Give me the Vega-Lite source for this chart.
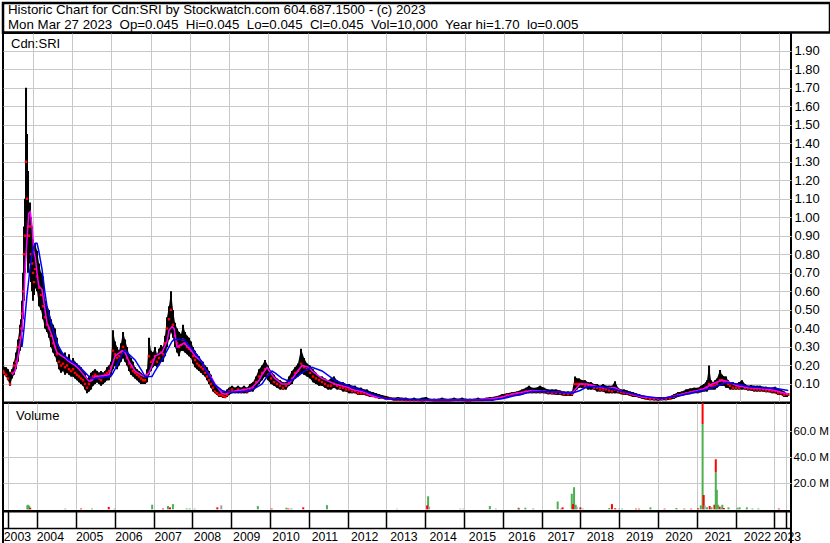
{
"$schema": "https://vega.github.io/schema/vega-lite/v6.json",
"background": "white",
"padding": {"left": 1, "top": 1, "right": 0, "bottom": 0},
"spacing": 0,
"bounds": "flush",
"config": {"font": "Liberation Sans", "view": {"stroke": null}, "axis": {"labelFont": "Liberation Sans", "labelColor": "black", "labelOverlap": false, "tickCount": 60}},
"datasets": {
"hdr": [
{"k": 1, "s": "Historic Chart for Cdn:SRI by Stockwatch.com 604.687.1500 - (c) 2023"},
{"k": 2, "s": "Mon Mar 27 2023\u00a0 Op=0.045\u00a0 Hi=0.045\u00a0 Lo=0.045\u00a0 Cl=0.045\u00a0 Vol=10,000\u00a0 Year hi=1.70\u00a0 lo=0.005"}
],
"px": [
{"t":2003.25,"h":0.20,"l":0.15,"c":0.17},{"t":2003.27,"h":0.19,"l":0.15,"c":0.16},{"t":2003.321,"h":0.19,"l":0.14,"c":0.15},{"t":2003.372,"h":0.18,"l":0.12,"c":0.13},{"t":2003.423,"h":0.16,"l":0.09,"c":0.10},{"t":2003.474,"h":0.18,"l":0.13,"c":0.16},{"t":2003.524,"h":0.22,"l":0.15,"c":0.20},{"t":2003.575,"h":0.27,"l":0.18,"c":0.22},{"t":2003.626,"h":0.34,"l":0.22,"c":0.30},{"t":2003.677,"h":0.42,"l":0.28,"c":0.35},{"t":2003.703,"h":0.45,"l":0.30,"c":0.40},{"t":2003.728,"h":0.55,"l":0.38,"c":0.48},{"t":2003.754,"h":0.70,"l":0.45,"c":0.60},{"t":2003.779,"h":0.95,"l":0.55,"c":0.80},{"t":2003.804,"h":1.10,"l":0.70,"c":0.90},{"t":2003.830,"h":1.70,"l":0.85,"c":1.30},{"t":2003.855,"h":1.45,"l":0.90,"c":1.10},{"t":2003.881,"h":1.25,"l":0.70,"c":0.95},{"t":2003.906,"h":1.05,"l":0.75,"c":0.90},{"t":2003.932,"h":1.08,"l":0.80,"c":0.95},{"t":2003.957,"h":1.00,"l":0.65,"c":0.80},{"t":2003.983,"h":0.95,"l":0.60,"c":0.75},{"t":2004.008,"h":0.88,"l":0.55,"c":0.70},{"t":2004.033,"h":0.80,"l":0.58,"c":0.65},{"t":2004.059,"h":0.86,"l":0.62,"c":0.72},{"t":2004.110,"h":0.82,"l":0.60,"c":0.68},{"t":2004.161,"h":0.75,"l":0.52,"c":0.62},{"t":2004.212,"h":0.70,"l":0.50,"c":0.58},{"t":2004.263,"h":0.68,"l":0.45,"c":0.52},{"t":2004.313,"h":0.55,"l":0.40,"c":0.46},{"t":2004.364,"h":0.52,"l":0.38,"c":0.42},{"t":2004.415,"h":0.50,"l":0.35,"c":0.40},{"t":2004.466,"h":0.45,"l":0.30,"c":0.36},{"t":2004.517,"h":0.42,"l":0.27,"c":0.32},{"t":2004.568,"h":0.40,"l":0.25,"c":0.30},{"t":2004.618,"h":0.35,"l":0.22,"c":0.26},{"t":2004.669,"h":0.30,"l":0.18,"c":0.22},{"t":2004.720,"h":0.28,"l":0.16,"c":0.20},{"t":2004.772,"h":0.26,"l":0.17,"c":0.21},{"t":2004.822,"h":0.27,"l":0.15,"c":0.19},{"t":2004.873,"h":0.24,"l":0.16,"c":0.20},{"t":2004.924,"h":0.26,"l":0.15,"c":0.18},{"t":2004.975,"h":0.22,"l":0.14,"c":0.17},{"t":2005.026,"h":0.24,"l":0.14,"c":0.18},{"t":2005.077,"h":0.22,"l":0.13,"c":0.16},{"t":2005.128,"h":0.21,"l":0.12,"c":0.15},{"t":2005.179,"h":0.20,"l":0.11,"c":0.14},{"t":2005.230,"h":0.19,"l":0.10,"c":0.13},{"t":2005.281,"h":0.17,"l":0.09,"c":0.12},{"t":2005.331,"h":0.16,"l":0.07,"c":0.10},{"t":2005.382,"h":0.13,"l":0.05,"c":0.08},{"t":2005.433,"h":0.14,"l":0.06,"c":0.10},{"t":2005.484,"h":0.16,"l":0.07,"c":0.12},{"t":2005.535,"h":0.17,"l":0.09,"c":0.14},{"t":2005.586,"h":0.18,"l":0.10,"c":0.15},{"t":2005.637,"h":0.17,"l":0.11,"c":0.14},{"t":2005.688,"h":0.16,"l":0.10,"c":0.13},{"t":2005.739,"h":0.17,"l":0.09,"c":0.12},{"t":2005.790,"h":0.16,"l":0.10,"c":0.14},{"t":2005.840,"h":0.17,"l":0.11,"c":0.15},{"t":2005.891,"h":0.19,"l":0.12,"c":0.16},{"t":2005.942,"h":0.20,"l":0.12,"c":0.17},{"t":2005.993,"h":0.22,"l":0.14,"c":0.19},{"t":2006.044,"h":0.39,"l":0.18,"c":0.28},{"t":2006.095,"h":0.33,"l":0.20,"c":0.26},{"t":2006.146,"h":0.30,"l":0.18,"c":0.24},{"t":2006.197,"h":0.28,"l":0.20,"c":0.25},{"t":2006.248,"h":0.32,"l":0.22,"c":0.27},{"t":2006.299,"h":0.38,"l":0.24,"c":0.30},{"t":2006.350,"h":0.34,"l":0.22,"c":0.28},{"t":2006.401,"h":0.30,"l":0.20,"c":0.24},{"t":2006.451,"h":0.26,"l":0.17,"c":0.21},{"t":2006.502,"h":0.24,"l":0.15,"c":0.19},{"t":2006.553,"h":0.22,"l":0.14,"c":0.17},{"t":2006.604,"h":0.19,"l":0.13,"c":0.16},{"t":2006.655,"h":0.18,"l":0.12,"c":0.15},{"t":2006.706,"h":0.17,"l":0.11,"c":0.14},{"t":2006.757,"h":0.16,"l":0.10,"c":0.13},{"t":2006.808,"h":0.15,"l":0.10,"c":0.12},{"t":2006.859,"h":0.14,"l":0.10,"c":0.12},{"t":2006.910,"h":0.18,"l":0.11,"c":0.15},{"t":2006.960,"h":0.35,"l":0.15,"c":0.25},{"t":2007.011,"h":0.28,"l":0.17,"c":0.22},{"t":2007.062,"h":0.27,"l":0.19,"c":0.23},{"t":2007.113,"h":0.30,"l":0.20,"c":0.25},{"t":2007.164,"h":0.26,"l":0.19,"c":0.22},{"t":2007.215,"h":0.29,"l":0.20,"c":0.24},{"t":2007.266,"h":0.31,"l":0.22,"c":0.27},{"t":2007.317,"h":0.30,"l":0.22,"c":0.26},{"t":2007.368,"h":0.36,"l":0.25,"c":0.32},{"t":2007.419,"h":0.46,"l":0.30,"c":0.40},{"t":2007.469,"h":0.52,"l":0.34,"c":0.45},{"t":2007.520,"h":0.60,"l":0.38,"c":0.50},{"t":2007.571,"h":0.50,"l":0.35,"c":0.42},{"t":2007.622,"h":0.43,"l":0.30,"c":0.36},{"t":2007.673,"h":0.40,"l":0.27,"c":0.32},{"t":2007.724,"h":0.38,"l":0.25,"c":0.30},{"t":2007.775,"h":0.37,"l":0.28,"c":0.31},{"t":2007.826,"h":0.42,"l":0.28,"c":0.34},{"t":2007.877,"h":0.38,"l":0.27,"c":0.32},{"t":2007.928,"h":0.36,"l":0.26,"c":0.30},{"t":2007.978,"h":0.35,"l":0.25,"c":0.29},{"t":2008.029,"h":0.33,"l":0.24,"c":0.28},{"t":2008.080,"h":0.30,"l":0.21,"c":0.25},{"t":2008.131,"h":0.28,"l":0.19,"c":0.23},{"t":2008.182,"h":0.26,"l":0.18,"c":0.21},{"t":2008.233,"h":0.25,"l":0.17,"c":0.20},{"t":2008.284,"h":0.23,"l":0.16,"c":0.19},{"t":2008.335,"h":0.22,"l":0.15,"c":0.18},{"t":2008.386,"h":0.20,"l":0.14,"c":0.16},{"t":2008.437,"h":0.19,"l":0.12,"c":0.14},{"t":2008.487,"h":0.17,"l":0.10,"c":0.12},{"t":2008.538,"h":0.15,"l":0.08,"c":0.10},{"t":2008.589,"h":0.12,"l":0.06,"c":0.08},{"t":2008.640,"h":0.10,"l":0.05,"c":0.06},{"t":2008.691,"h":0.08,"l":0.04,"c":0.05},{"t":2008.742,"h":0.07,"l":0.03,"c":0.04},{"t":2008.793,"h":0.06,"l":0.03,"c":0.04},{"t":2008.844,"h":0.06,"l":0.025,"c":0.035},{"t":2008.895,"h":0.06,"l":0.025,"c":0.03},{"t":2008.946,"h":0.07,"l":0.03,"c":0.04},{"t":2008.996,"h":0.08,"l":0.04,"c":0.06},{"t":2009.073,"h":0.09,"l":0.05,"c":0.07},{"t":2009.149,"h":0.08,"l":0.05,"c":0.06},{"t":2009.226,"h":0.09,"l":0.05,"c":0.07},{"t":2009.302,"h":0.08,"l":0.05,"c":0.06},{"t":2009.378,"h":0.09,"l":0.05,"c":0.07},{"t":2009.455,"h":0.08,"l":0.05,"c":0.06},{"t":2009.531,"h":0.10,"l":0.06,"c":0.07},{"t":2009.607,"h":0.11,"l":0.06,"c":0.08},{"t":2009.684,"h":0.14,"l":0.08,"c":0.11},{"t":2009.760,"h":0.18,"l":0.10,"c":0.14},{"t":2009.837,"h":0.20,"l":0.12,"c":0.16},{"t":2009.913,"h":0.23,"l":0.14,"c":0.18},{"t":2009.989,"h":0.20,"l":0.12,"c":0.15},{"t":2010.066,"h":0.17,"l":0.10,"c":0.13},{"t":2010.142,"h":0.15,"l":0.09,"c":0.11},{"t":2010.218,"h":0.13,"l":0.08,"c":0.10},{"t":2010.295,"h":0.12,"l":0.07,"c":0.09},{"t":2010.371,"h":0.11,"l":0.07,"c":0.08},{"t":2010.447,"h":0.11,"l":0.07,"c":0.09},{"t":2010.524,"h":0.14,"l":0.09,"c":0.11},{"t":2010.600,"h":0.17,"l":0.10,"c":0.13},{"t":2010.677,"h":0.19,"l":0.13,"c":0.16},{"t":2010.753,"h":0.21,"l":0.14,"c":0.17},{"t":2010.829,"h":0.29,"l":0.16,"c":0.21},{"t":2010.906,"h":0.24,"l":0.15,"c":0.19},{"t":2010.982,"h":0.21,"l":0.14,"c":0.18},{"t":2011.058,"h":0.20,"l":0.13,"c":0.16},{"t":2011.135,"h":0.18,"l":0.11,"c":0.14},{"t":2011.211,"h":0.16,"l":0.10,"c":0.13},{"t":2011.287,"h":0.14,"l":0.09,"c":0.12},{"t":2011.364,"h":0.14,"l":0.09,"c":0.11},{"t":2011.440,"h":0.13,"l":0.08,"c":0.10},{"t":2011.516,"h":0.12,"l":0.07,"c":0.09},{"t":2011.593,"h":0.13,"l":0.07,"c":0.09},{"t":2011.669,"h":0.14,"l":0.08,"c":0.10},{"t":2011.746,"h":0.12,"l":0.07,"c":0.09},{"t":2011.822,"h":0.11,"l":0.07,"c":0.08},{"t":2011.898,"h":0.11,"l":0.06,"c":0.08},{"t":2011.975,"h":0.10,"l":0.06,"c":0.07},{"t":2012.051,"h":0.10,"l":0.05,"c":0.07},{"t":2012.127,"h":0.09,"l":0.05,"c":0.06},{"t":2012.204,"h":0.09,"l":0.05,"c":0.06},{"t":2012.280,"h":0.08,"l":0.04,"c":0.05},{"t":2012.356,"h":0.08,"l":0.04,"c":0.05},{"t":2012.433,"h":0.07,"l":0.04,"c":0.05},{"t":2012.509,"h":0.07,"l":0.035,"c":0.045},{"t":2012.585,"h":0.06,"l":0.03,"c":0.04},{"t":2012.662,"h":0.055,"l":0.03,"c":0.035},{"t":2012.738,"h":0.05,"l":0.025,"c":0.03},{"t":2012.815,"h":0.045,"l":0.02,"c":0.03},{"t":2012.891,"h":0.04,"l":0.02,"c":0.025},{"t":2012.993,"h":0.035,"l":0.015,"c":0.02},{"t":2013.094,"h":0.03,"l":0.015,"c":0.02},{"t":2013.196,"h":0.025,"l":0.01,"c":0.015},{"t":2013.298,"h":0.03,"l":0.01,"c":0.015},{"t":2013.400,"h":0.025,"l":0.01,"c":0.015},{"t":2013.502,"h":0.025,"l":0.008,"c":0.012},{"t":2013.603,"h":0.02,"l":0.008,"c":0.012},{"t":2013.705,"h":0.025,"l":0.008,"c":0.012},{"t":2013.807,"h":0.02,"l":0.008,"c":0.012},{"t":2013.909,"h":0.025,"l":0.005,"c":0.01},{"t":2014.011,"h":0.03,"l":0.008,"c":0.012},{"t":2014.112,"h":0.02,"l":0.008,"c":0.012},{"t":2014.214,"h":0.02,"l":0.005,"c":0.01},{"t":2014.316,"h":0.02,"l":0.005,"c":0.01},{"t":2014.418,"h":0.025,"l":0.005,"c":0.01},{"t":2014.520,"h":0.02,"l":0.005,"c":0.01},{"t":2014.621,"h":0.02,"l":0.005,"c":0.01},{"t":2014.723,"h":0.025,"l":0.008,"c":0.012},{"t":2014.825,"h":0.02,"l":0.008,"c":0.012},{"t":2014.927,"h":0.025,"l":0.008,"c":0.012},{"t":2015.029,"h":0.02,"l":0.005,"c":0.01},{"t":2015.131,"h":0.02,"l":0.005,"c":0.01},{"t":2015.232,"h":0.02,"l":0.008,"c":0.012},{"t":2015.334,"h":0.025,"l":0.008,"c":0.012},{"t":2015.436,"h":0.02,"l":0.008,"c":0.012},{"t":2015.538,"h":0.025,"l":0.01,"c":0.015},{"t":2015.639,"h":0.03,"l":0.01,"c":0.015},{"t":2015.690,"h":0.03,"l":0.01,"c":0.02},{"t":2015.818,"h":0.035,"l":0.015,"c":0.025},{"t":2015.945,"h":0.045,"l":0.02,"c":0.03},{"t":2016.072,"h":0.05,"l":0.03,"c":0.04},{"t":2016.200,"h":0.055,"l":0.035,"c":0.045},{"t":2016.327,"h":0.06,"l":0.035,"c":0.05},{"t":2016.454,"h":0.07,"l":0.04,"c":0.05},{"t":2016.556,"h":0.08,"l":0.05,"c":0.06},{"t":2016.632,"h":0.09,"l":0.05,"c":0.06},{"t":2016.709,"h":0.08,"l":0.05,"c":0.06},{"t":2016.811,"h":0.08,"l":0.05,"c":0.06},{"t":2016.912,"h":0.09,"l":0.05,"c":0.06},{"t":2017.014,"h":0.08,"l":0.05,"c":0.06},{"t":2017.116,"h":0.07,"l":0.045,"c":0.055},{"t":2017.218,"h":0.07,"l":0.045,"c":0.05},{"t":2017.319,"h":0.07,"l":0.04,"c":0.05},{"t":2017.421,"h":0.065,"l":0.04,"c":0.05},{"t":2017.523,"h":0.06,"l":0.035,"c":0.045},{"t":2017.625,"h":0.06,"l":0.035,"c":0.045},{"t":2017.727,"h":0.06,"l":0.035,"c":0.045},{"t":2017.803,"h":0.14,"l":0.06,"c":0.10},{"t":2017.854,"h":0.13,"l":0.07,"c":0.10},{"t":2017.905,"h":0.13,"l":0.08,"c":0.10},{"t":2017.981,"h":0.12,"l":0.08,"c":0.10},{"t":2018.058,"h":0.12,"l":0.08,"c":0.09},{"t":2018.134,"h":0.11,"l":0.07,"c":0.09},{"t":2018.210,"h":0.11,"l":0.07,"c":0.09},{"t":2018.287,"h":0.10,"l":0.07,"c":0.08},{"t":2018.363,"h":0.10,"l":0.06,"c":0.08},{"t":2018.439,"h":0.09,"l":0.06,"c":0.07},{"t":2018.516,"h":0.10,"l":0.06,"c":0.07},{"t":2018.592,"h":0.09,"l":0.05,"c":0.07},{"t":2018.668,"h":0.09,"l":0.05,"c":0.065},{"t":2018.745,"h":0.09,"l":0.05,"c":0.06},{"t":2018.821,"h":0.115,"l":0.05,"c":0.07},{"t":2018.898,"h":0.08,"l":0.05,"c":0.06},{"t":2018.974,"h":0.07,"l":0.045,"c":0.055},{"t":2019.050,"h":0.07,"l":0.04,"c":0.05},{"t":2019.127,"h":0.065,"l":0.04,"c":0.05},{"t":2019.203,"h":0.06,"l":0.035,"c":0.045},{"t":2019.279,"h":0.055,"l":0.03,"c":0.04},{"t":2019.356,"h":0.05,"l":0.03,"c":0.04},{"t":2019.432,"h":0.045,"l":0.025,"c":0.035},{"t":2019.508,"h":0.04,"l":0.02,"c":0.03},{"t":2019.610,"h":0.035,"l":0.015,"c":0.02},{"t":2019.712,"h":0.03,"l":0.012,"c":0.02},{"t":2019.814,"h":0.03,"l":0.012,"c":0.018},{"t":2019.916,"h":0.03,"l":0.01,"c":0.018},{"t":2020.017,"h":0.03,"l":0.012,"c":0.02},{"t":2020.119,"h":0.03,"l":0.012,"c":0.02},{"t":2020.221,"h":0.035,"l":0.015,"c":0.02},{"t":2020.323,"h":0.045,"l":0.02,"c":0.03},{"t":2020.424,"h":0.055,"l":0.03,"c":0.04},{"t":2020.526,"h":0.06,"l":0.035,"c":0.045},{"t":2020.628,"h":0.07,"l":0.04,"c":0.05},{"t":2020.730,"h":0.075,"l":0.045,"c":0.055},{"t":2020.832,"h":0.08,"l":0.05,"c":0.06},{"t":2020.934,"h":0.08,"l":0.05,"c":0.06},{"t":2021.010,"h":0.09,"l":0.055,"c":0.07},{"t":2021.086,"h":0.10,"l":0.06,"c":0.07},{"t":2021.163,"h":0.12,"l":0.06,"c":0.08},{"t":2021.214,"h":0.20,"l":0.07,"c":0.10},{"t":2021.264,"h":0.12,"l":0.07,"c":0.09},{"t":2021.315,"h":0.11,"l":0.07,"c":0.09},{"t":2021.366,"h":0.12,"l":0.07,"c":0.09},{"t":2021.417,"h":0.13,"l":0.08,"c":0.10},{"t":2021.494,"h":0.175,"l":0.09,"c":0.12},{"t":2021.544,"h":0.15,"l":0.09,"c":0.12},{"t":2021.595,"h":0.14,"l":0.09,"c":0.11},{"t":2021.646,"h":0.14,"l":0.08,"c":0.11},{"t":2021.697,"h":0.12,"l":0.08,"c":0.10},{"t":2021.748,"h":0.11,"l":0.07,"c":0.09},{"t":2021.824,"h":0.11,"l":0.07,"c":0.08},{"t":2021.901,"h":0.10,"l":0.07,"c":0.08},{"t":2021.977,"h":0.11,"l":0.07,"c":0.08},{"t":2022.053,"h":0.12,"l":0.07,"c":0.09},{"t":2022.130,"h":0.10,"l":0.07,"c":0.08},{"t":2022.206,"h":0.09,"l":0.065,"c":0.075},{"t":2022.282,"h":0.095,"l":0.065,"c":0.075},{"t":2022.359,"h":0.09,"l":0.06,"c":0.07},{"t":2022.435,"h":0.09,"l":0.06,"c":0.07},{"t":2022.512,"h":0.09,"l":0.06,"c":0.07},{"t":2022.588,"h":0.085,"l":0.06,"c":0.07},{"t":2022.664,"h":0.085,"l":0.055,"c":0.065},{"t":2022.741,"h":0.08,"l":0.055,"c":0.065},{"t":2022.817,"h":0.08,"l":0.05,"c":0.06},{"t":2022.893,"h":0.085,"l":0.05,"c":0.06},{"t":2022.970,"h":0.075,"l":0.04,"c":0.05},{"t":2023.046,"h":0.07,"l":0.04,"c":0.05},{"t":2023.123,"h":0.06,"l":0.03,"c":0.04},{"t":2023.199,"h":0.05,"l":0.03,"c":0.045},{"t":2023.23,"h":0.045,"l":0.035,"c":0.045}
],
"ma": [
{"t":2003.474,"m":0.15,"b":null},{"t":2003.55,"m":0.17,"b":null},{"t":2003.626,"m":0.25,"b":null},{"t":2003.677,"m":0.32,"b":null},{"t":2003.728,"m":0.39,"b":0.30},{"t":2003.779,"m":0.58,"b":0.40},{"t":2003.812,"m":0.74,"b":0.48},{"t":2003.855,"m":0.88,"b":0.58},{"t":2003.899,"m":1.02,"b":0.66},{"t":2003.939,"m":1.03,"b":0.74},{"t":2003.983,"m":0.95,"b":0.80},{"t":2004.026,"m":0.82,"b":0.84},{"t":2004.067,"m":0.78,"b":0.86},{"t":2004.11,"m":0.70,"b":0.86},{"t":2004.153,"m":0.63,"b":0.82},{"t":2004.237,"m":0.61,"b":0.72},{"t":2004.313,"m":0.50,"b":0.59},{"t":2004.364,"m":0.43,"b":0.52},{"t":2004.492,"m":0.36,"b":0.41},{"t":2004.568,"m":0.30,"b":0.36},{"t":2004.618,"m":0.27,"b":0.32},{"t":2004.746,"m":0.25,"b":0.27},{"t":2004.822,"m":0.24,"b":0.25},{"t":2004.924,"m":0.22,"b":0.23},{"t":2005.077,"m":0.20,"b":0.21},{"t":2005.179,"m":0.18,"b":0.195},{"t":2005.255,"m":0.16,"b":0.18},{"t":2005.433,"m":0.115,"b":0.14},{"t":2005.51,"m":0.12,"b":0.13},{"t":2005.586,"m":0.14,"b":0.13},{"t":2005.764,"m":0.145,"b":0.135},{"t":2005.942,"m":0.15,"b":0.14},{"t":2006.019,"m":0.20,"b":0.15},{"t":2006.095,"m":0.25,"b":0.18},{"t":2006.273,"m":0.28,"b":0.26},{"t":2006.35,"m":0.27,"b":0.28},{"t":2006.451,"m":0.22,"b":0.26},{"t":2006.604,"m":0.17,"b":0.23},{"t":2006.782,"m":0.145,"b":0.17},{"t":2006.859,"m":0.14,"b":0.14},{"t":2006.96,"m":0.16,"b":0.14},{"t":2007.037,"m":0.20,"b":0.14},{"t":2007.113,"m":0.25,"b":0.17},{"t":2007.291,"m":0.27,"b":0.23},{"t":2007.419,"m":0.33,"b":0.28},{"t":2007.469,"m":0.39,"b":0.30},{"t":2007.546,"m":0.41,"b":0.33},{"t":2007.597,"m":0.40,"b":0.34},{"t":2007.673,"m":0.30,"b":0.34},{"t":2007.851,"m":0.32,"b":0.34},{"t":2008.004,"m":0.29,"b":0.30},{"t":2008.131,"m":0.25,"b":0.27},{"t":2008.309,"m":0.22,"b":0.22},{"t":2008.386,"m":0.18,"b":0.18},{"t":2008.564,"m":0.13,"b":0.12},{"t":2008.64,"m":0.10,"b":0.095},{"t":2008.818,"m":0.05,"b":0.065},{"t":2008.895,"m":0.045,"b":0.06},{"t":2009.073,"m":0.06,"b":0.055},{"t":2009.404,"m":0.07,"b":0.06},{"t":2009.582,"m":0.08,"b":0.068},{"t":2009.76,"m":0.12,"b":0.09},{"t":2009.837,"m":0.15,"b":0.10},{"t":2009.964,"m":0.19,"b":0.14},{"t":2010.091,"m":0.15,"b":0.17},{"t":2010.167,"m":0.13,"b":0.16},{"t":2010.346,"m":0.10,"b":0.13},{"t":2010.524,"m":0.10,"b":0.115},{"t":2010.677,"m":0.15,"b":0.13},{"t":2010.855,"m":0.20,"b":0.16},{"t":2011.033,"m":0.19,"b":0.185},{"t":2011.109,"m":0.17,"b":0.19},{"t":2011.364,"m":0.13,"b":0.17},{"t":2011.694,"m":0.10,"b":0.12},{"t":2012.051,"m":0.08,"b":0.09},{"t":2012.127,"m":0.07,"b":0.085},{"t":2012.458,"m":0.055,"b":0.06},{"t":2012.636,"m":0.035,"b":0.045},{"t":2012.967,"m":0.022,"b":0.022},{"t":2013.145,"m":0.018,"b":0.017},{"t":2014.163,"m":0.014,"b":0.013},{"t":2015.181,"m":0.014,"b":0.013},{"t":2015.69,"m":0.02,"b":0.014},{"t":2015.945,"m":0.03,"b":0.02},{"t":2016.2,"m":0.045,"b":0.033},{"t":2016.454,"m":0.055,"b":0.045},{"t":2016.709,"m":0.065,"b":0.06},{"t":2017.09,"m":0.06,"b":0.06},{"t":2017.396,"m":0.055,"b":0.055},{"t":2017.727,"m":0.05,"b":0.05},{"t":2017.93,"m":0.10,"b":0.065},{"t":2018.108,"m":0.10,"b":0.085},{"t":2018.49,"m":0.08,"b":0.085},{"t":2018.821,"m":0.08,"b":0.07},{"t":2018.999,"m":0.06,"b":0.06},{"t":2019.508,"m":0.03,"b":0.035},{"t":2020.017,"m":0.02,"b":0.022},{"t":2020.526,"m":0.045,"b":0.04},{"t":2021.035,"m":0.07,"b":0.065},{"t":2021.163,"m":0.085,"b":0.07},{"t":2021.29,"m":0.10,"b":0.08},{"t":2021.544,"m":0.12,"b":0.10},{"t":2021.672,"m":0.115,"b":0.108},{"t":2021.926,"m":0.09,"b":0.10},{"t":2022.232,"m":0.08,"b":0.085},{"t":2022.562,"m":0.075,"b":0.08},{"t":2022.893,"m":0.065,"b":0.077},{"t":2023.23,"m":0.045,"b":0.065}
],
"vol": [
{"t":2003.741,"v":3000000,"d":"u"},{"t":2003.766,"v":3500000,"d":"u"},{"t":2003.792,"v":2500000,"d":"u"},{"t":2003.817,"v":1200000,"d":"d"},{"t":2004.721,"v":500000,"d":"u"},{"t":2005.128,"v":600000,"d":"d"},{"t":2005.408,"v":600000,"d":"u"},{"t":2005.841,"v":1800000,"d":"d"},{"t":2005.993,"v":500000,"d":"u"},{"t":2006.96,"v":3500000,"d":"u"},{"t":2007.24,"v":600000,"d":"d"},{"t":2007.368,"v":2500000,"d":"u"},{"t":2007.419,"v":1500000,"d":"d"},{"t":2007.495,"v":4000000,"d":"u"},{"t":2007.851,"v":600000,"d":"u"},{"t":2007.928,"v":600000,"d":"u"},{"t":2008.055,"v":500000,"d":"u"},{"t":2008.64,"v":1500000,"d":"d"},{"t":2008.742,"v":3000000,"d":"f"},{"t":2009.684,"v":2500000,"d":"u"},{"t":2010.04,"v":600000,"d":"d"},{"t":2010.422,"v":1200000,"d":"u"},{"t":2010.473,"v":600000,"d":"d"},{"t":2010.549,"v":600000,"d":"u"},{"t":2010.855,"v":1500000,"d":"d"},{"t":2011.466,"v":3200000,"d":"u"},{"t":2013.272,"v":500000,"d":"f"},{"t":2014.074,"v":10000000,"d":"u"},{"t":2014.049,"v":3000000,"d":"d"},{"t":2014.1,"v":2000000,"d":"f"},{"t":2014.901,"v":500000,"d":"f"},{"t":2014.978,"v":500000,"d":"f"},{"t":2015.665,"v":2500000,"d":"u"},{"t":2015.818,"v":600000,"d":"f"},{"t":2016.403,"v":1200000,"d":"u"},{"t":2016.416,"v":600000,"d":"d"},{"t":2016.581,"v":1200000,"d":"u"},{"t":2016.785,"v":600000,"d":"u"},{"t":2017.414,"v":6000000,"d":"u"},{"t":2017.498,"v":600000,"d":"f"},{"t":2017.541,"v":1500000,"d":"d"},{"t":2017.777,"v":12000000,"d":"u"},{"t":2017.836,"v":17000000,"d":"u"},{"t":2017.811,"v":4000000,"d":"d"},{"t":2017.879,"v":3500000,"d":"u"},{"t":2017.905,"v":2000000,"d":"f"},{"t":2017.999,"v":1500000,"d":"d"},{"t":2018.058,"v":600000,"d":"f"},{"t":2018.745,"v":1000000,"d":"u"},{"t":2018.813,"v":4000000,"d":"d"},{"t":2018.898,"v":800000,"d":"d"},{"t":2018.999,"v":500000,"d":"f"},{"t":2019.076,"v":500000,"d":"u"},{"t":2019.432,"v":500000,"d":"d"},{"t":2019.508,"v":500000,"d":"d"},{"t":2019.806,"v":1500000,"d":"u"},{"t":2020.17,"v":500000,"d":"d"},{"t":2020.475,"v":1000000,"d":"u"},{"t":2020.679,"v":500000,"d":"d"},{"t":2020.857,"v":500000,"d":"d"},{"t":2021.035,"v":800000,"d":"d"},{"t":2021.104,"v":3000000,"d":"u"},{"t":2021.15,"v":65600000,"d":"u"},{"t":2021.15,"v":30000000,"d":"d"},{"t":2021.178,"v":11000000,"d":"d"},{"t":2021.204,"v":3000000,"d":"f"},{"t":2021.264,"v":1500000,"d":"u"},{"t":2021.333,"v":2500000,"d":"d"},{"t":2021.379,"v":1500000,"d":"u"},{"t":2021.455,"v":3500000,"d":"d"},{"t":2021.49,"v":28500000,"d":"u"},{"t":2021.49,"v":10000000,"d":"d"},{"t":2021.517,"v":15000000,"d":"u"},{"t":2021.55,"v":3500000,"d":"u"},{"t":2021.595,"v":2000000,"d":"d"},{"t":2021.621,"v":1500000,"d":"f"},{"t":2021.659,"v":3500000,"d":"u"},{"t":2021.697,"v":1000000,"d":"d"},{"t":2021.817,"v":1500000,"d":"u"},{"t":2022.053,"v":1200000,"d":"u"},{"t":2022.104,"v":1500000,"d":"u"},{"t":2022.29,"v":1500000,"d":"u"},{"t":2022.435,"v":600000,"d":"u"},{"t":2022.588,"v":600000,"d":"u"},{"t":2023.115,"v":600000,"d":"d"}
],
"yr": [
{"y":"2003","t":2003.262},{"y":"2004","t":2004.1},{"y":"2005","t":2005.1},{"y":"2006","t":2006.1},{"y":"2007","t":2007.1},{"y":"2008","t":2008.1},{"y":"2009","t":2009.1},{"y":"2010","t":2010.1},{"y":"2011","t":2011.1},{"y":"2012","t":2012.1},{"y":"2013","t":2013.1},{"y":"2014","t":2014.1},{"y":"2015","t":2015.1},{"y":"2016","t":2016.1},{"y":"2017","t":2017.1},{"y":"2018","t":2018.1},{"y":"2019","t":2019.1},{"y":"2020","t":2020.1},{"y":"2021","t":2021.1},{"y":"2022","t":2022.1},{"y":"2023","t":2022.86}
]
},
"vconcat": [
{
"width": 827, "height": 29.5,
"view": {"stroke": "black", "strokeWidth": 2.5},
"data": {"name": "hdr"},
"mark": {"type": "text", "align": "left", "baseline": "alphabetic", "fontSize": 13.3, "color": "black", "dx": 5, "dy": 4},
"encoding": {
"x": {"datum": 0, "type": "quantitative", "scale": {"domain": [0, 1], "nice": false, "zero": false}, "axis": null},
"y": {"field": "k", "type": "ordinal", "axis": null},
"text": {"field": "s", "type": "nominal"}
}
},
{
"width": 788, "height": 369.5,
"view": {"stroke": "black", "strokeWidth": 2},
"layer": [
{"data": {"name": "px"}, "mark": {"type": "area", "color": "black", "clip": true}, "encoding": {
"x": {"field": "t", "type": "quantitative", "scale": {"domain": [2003.244, 2023.3], "nice": false, "zero": false}, "axis": {"values": [2004,2005,2006,2007,2008,2009,2010,2011,2012,2013,2014,2015,2016,2017,2018,2019,2020,2021,2022,2023], "tickCount": 60, "grid": true, "gridColor": "#c8c8c8", "labels": false, "ticks": false, "domain": false, "title": null}},
"y": {"field": "h", "type": "quantitative", "scale": {"domain": [0, 1.995], "nice": false, "zero": false}, "axis": {"orient": "right", "values": [0.1,0.2,0.3,0.4,0.5,0.6,0.7,0.8,0.9,1.0,1.1,1.2,1.3,1.4,1.5,1.6,1.7,1.8,1.9], "tickCount": 60, "format": ".2f", "labelOverlap": false, "grid": true, "gridColor": "#c8c8c8", "domain": false, "ticks": false, "tickSize": 0, "labelPadding": 3, "labelFontSize": 13, "title": null}}, "y2": {"field": "l"}}},
{"data": {"name": "px"}, "mark": {"type": "rule", "color": "black", "strokeWidth": 2, "clip": true}, "encoding": {"x": {"field": "t", "type": "quantitative"}, "y": {"field": "h", "type": "quantitative"}, "y2": {"field": "l"}}},
{"data": {"name": "px"}, "mark": {"type": "square", "color": "#ff0000", "size": 6, "opacity": 1, "clip": true}, "encoding": {"x": {"field": "t", "type": "quantitative"}, "y": {"field": "c", "type": "quantitative"}}},
{"data": {"name": "ma"}, "mark": {"type": "line", "color": "#ff00ff", "strokeWidth": 1.5, "clip": true}, "encoding": {"x": {"field": "t", "type": "quantitative"}, "y": {"field": "m", "type": "quantitative"}}},
{"data": {"name": "ma"}, "mark": {"type": "line", "color": "#0000ff", "strokeWidth": 1.5, "clip": true}, "encoding": {"x": {"field": "t", "type": "quantitative"}, "y": {"field": "b", "type": "quantitative"}}},
{"data": {"values": [{"s": "Cdn:SRI"}]}, "mark": {"type": "text", "align": "left", "baseline": "alphabetic", "fontSize": 13, "color": "black", "dx": 8, "dy": 15.2}, "encoding": {"x": {"datum": 2003.244, "type": "quantitative"}, "y": {"datum": 1.995, "type": "quantitative"}, "text": {"field": "s", "type": "nominal"}}}
]
},
{
"width": 788, "height": 108,
"view": {"stroke": "black", "strokeWidth": 2},
"layer": [
{"data": {"name": "vol"}, "mark": {"type": "bar", "orient": "vertical", "size": 2, "clip": true}, "encoding": {
"x": {"field": "t", "type": "quantitative", "scale": {"domain": [2003.244, 2023.3], "nice": false, "zero": false}, "axis": {"orient": "bottom", "values": [2003.244,2004,2005,2006,2007,2008,2009,2010,2011,2012,2013,2014,2015,2016,2017,2018,2019,2020,2021,2022,2023,2023.3], "tickCount": 60, "grid": true, "gridColor": "#c8c8c8", "labels": false, "ticks": true, "tickSize": 17, "tickColor": "black", "tickWidth": 1.5, "domain": true, "domainColor": "black", "domainWidth": 2, "title": null}},
"y": {"field": "v", "type": "quantitative", "scale": {"domain": [-1300000, 81800000], "nice": false, "zero": false}, "axis": {"orient": "right", "values": [20000000, 40000000, 60000000], "labelExpr": "format(datum.value / 1000000, '.1f') + ' M'", "labelOverlap": false, "grid": true, "gridColor": "#c8c8c8", "domain": false, "ticks": false, "tickSize": 0, "labelPadding": 2, "labelFontSize": 11.6, "title": null}},
"color": {"field": "d", "type": "nominal", "scale": {"domain": ["u", "d", "f"], "range": ["#4caf50", "#ff0000", "#a0a0a0"]}, "legend": null}
}},
{"data": {"values": [{"s": "Volume"}]}, "mark": {"type": "text", "align": "left", "baseline": "alphabetic", "fontSize": 13, "color": "black", "dx": 8, "dy": 17.3}, "encoding": {"x": {"datum": 2003.244, "type": "quantitative"}, "y": {"datum": 81800000, "type": "quantitative"}, "text": {"field": "s", "type": "nominal"}}}
]
},
{
"width": 788, "height": 33,
"view": {"stroke": "black", "strokeWidth": 2},
"layer": [
{"data": {"values": [{"s": "line"}]}, "mark": {"type": "rule", "color": "black", "strokeWidth": 1.5}, "encoding": {"y": {"datum": 0.47, "type": "quantitative", "scale": {"domain": [0, 1], "nice": false, "zero": false}, "axis": null}}},
{"data": {"name": "yr"}, "mark": {"type": "text", "align": "left", "baseline": "middle", "fontSize": 12.3, "color": "black", "dy": 1}, "encoding": {"x": {"field": "t", "type": "quantitative", "scale": {"domain": [2003.244, 2023.3], "nice": false, "zero": false}, "axis": null}, "y": {"datum": 0.23, "type": "quantitative"}, "text": {"field": "y", "type": "nominal"}}}
]
}
]
}
